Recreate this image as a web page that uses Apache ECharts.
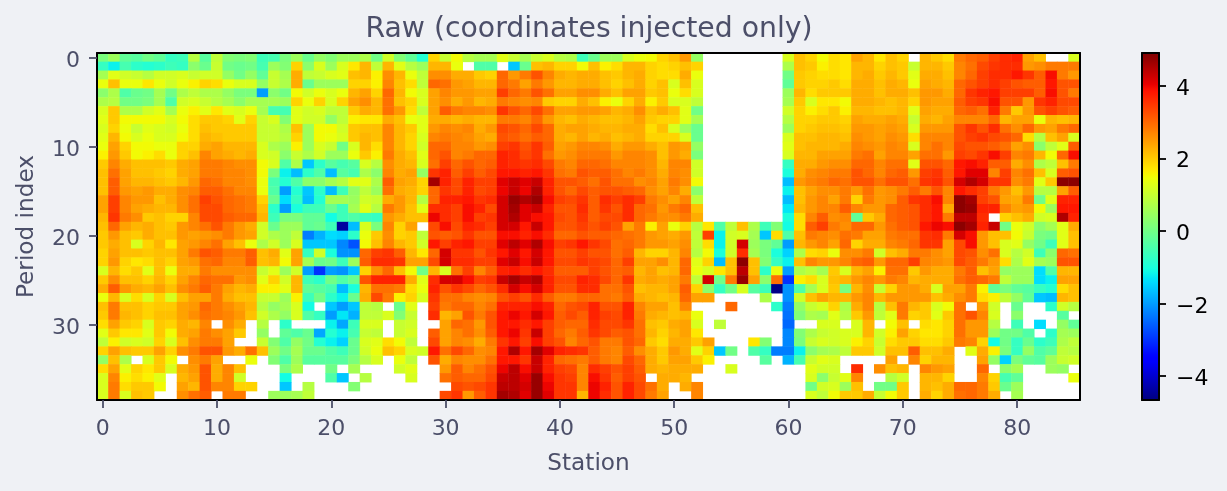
<!DOCTYPE html>
<html><head><meta charset="utf-8">
<style>html,body{margin:0;padding:0;background:#eff1f5}#c{width:1227px;height:491px}</style>
<script src="https://cdn.jsdelivr.net/npm/echarts@6/dist/echarts.min.js"></script>
</head><body><div id="c"></div>
<script>
const _ = null;
const titleText = 'Raw (coordinates injected only)';
const xName = 'Station', yName = 'Period index';
const colorbarTicks = [-4, -2, 0, 2, 4];
const valueMin = -4.66, valueMax = 4.9;
// values, in tenths of a unit; one array per period (row), 86 stations
const row00=[1,5,-2,-3,0,-2,-7,-6,8,-3,9,2,1,2,-6,-5,1,5,-1,4,2,5,5,7,0,11,2,-2,-9,19,10,15,8,6,6,13,10,6,10,12,8,7,-6,-1,5,5,12,14,15,19,21,25,4,_,_,_,_,_,_,_,12,21,19,15,18,17,24,22,17,21,19,_,22,20,18,28,30,31,34,36,37,24,21,_,_,12];
const row01=[-7,-12,-5,-8,-9,-8,-6,-7,3,-1,10,0,-1,0,-5,5,2,19,3,12,5,12,17,22,9,22,13,8,5,22,22,14,_,-4,-4,_,-16,-1,21,22,19,19,15,21,16,18,22,22,19,18,19,21,19,_,_,_,_,_,_,_,7,21,20,16,18,17,22,22,19,21,20,10,22,22,20,27,29,33,35,36,36,25,26,28,28,28];
const row02=[6,13,11,10,8,11,11,12,10,11,11,4,0,4,-2,10,6,23,9,10,12,13,21,22,16,26,22,14,9,26,26,23,23,20,19,30,25,28,32,27,23,22,23,23,21,20,22,23,19,18,18,23,14,_,_,_,_,_,_,_,0,20,19,18,18,17,22,23,20,22,20,13,23,23,21,27,30,34,36,36,38,35,31,39,28,25];
const row03=[14,21,14,14,17,14,11,14,16,19,18,14,12,12,4,10,7,23,-1,5,5,5,19,19,16,27,21,18,9,30,29,25,24,22,22,30,28,24,28,25,22,22,23,23,21,19,21,23,19,21,12,21,12,_,_,_,_,_,_,_,-2,20,19,19,20,18,23,23,21,23,22,14,24,23,22,30,32,34,36,34,32,31,31,38,32,32];
const row04=[3,7,-4,-1,0,6,0,7,9,7,7,4,1,1,-20,3,0,15,11,14,12,14,22,24,19,30,22,15,12,24,27,25,25,24,24,34,30,28,32,29,24,24,26,26,23,21,24,24,20,21,14,18,12,_,_,_,_,_,_,_,5,22,18,20,20,20,23,23,21,23,23,21,25,25,23,30,35,37,38,34,34,34,31,39,32,28];
const row05=[7,8,0,0,1,6,-4,11,12,10,8,6,3,6,6,6,5,19,14,19,12,19,24,26,22,29,21,19,12,24,26,23,25,22,23,28,27,26,27,20,19,19,23,21,16,14,19,23,16,20,12,12,9,_,_,_,_,_,_,_,6,20,12,17,17,15,23,23,22,21,22,19,25,24,24,31,34,35,39,32,32,25,35,37,33,33];
const row06=[12,20,7,7,11,13,6,14,16,13,17,13,12,14,6,-5,-5,13,11,12,9,9,20,23,22,29,25,18,9,24,31,28,27,27,26,35,32,30,33,29,24,24,25,25,24,22,23,26,21,23,21,13,0,_,_,_,_,_,_,_,11,19,16,18,20,16,22,22,21,21,22,13,24,23,23,30,31,29,37,28,20,25,32,34,32,31];
const row07=[13,20,15,15,15,15,12,15,18,20,20,19,13,19,10,12,2,13,11,11,4,9,16,17,17,23,21,14,13,23,23,22,23,22,22,28,28,27,30,25,22,21,23,22,21,21,22,24,20,19,19,13,6,_,_,_,_,_,_,_,8,19,19,20,20,19,24,23,23,24,23,10,23,22,24,27,27,27,30,22,24,24,14,22,21,22];
const row08=[12,19,14,10,13,12,11,14,18,21,20,20,20,20,10,10,7,21,5,15,15,11,20,21,21,27,22,20,13,25,27,26,27,23,25,33,32,30,33,30,23,24,24,23,22,22,23,23,18,21,12,5,-1,_,_,_,_,_,_,_,5,19,20,21,21,20,25,25,24,25,24,12,25,25,25,32,35,32,36,29,26,30,25,24,28,30];
const row09=[13,22,15,12,14,12,12,15,18,22,21,20,20,20,10,10,8,19,5,15,14,12,20,22,21,27,22,19,12,27,28,27,26,24,23,32,31,29,31,30,23,22,24,22,23,21,22,23,19,19,19,12,-1,_,_,_,_,_,_,_,12,21,21,22,22,21,26,25,24,26,25,18,27,27,27,32,34,35,33,32,30,18,8,21,24,12];
const row10=[14,24,19,15,15,14,14,19,19,23,24,22,22,22,12,7,5,16,5,12,10,0,12,22,18,27,22,19,11,30,30,27,27,25,26,34,35,32,35,31,24,25,27,27,26,23,25,25,23,21,25,24,4,_,_,_,_,_,_,_,13,21,22,22,22,23,27,26,25,27,26,12,27,29,27,33,32,32,31,29,24,26,3,9,13,31];
const row11=[16,25,20,15,16,18,14,19,21,27,24,23,22,23,12,11,3,10,7,11,5,5,14,20,16,28,23,21,13,30,32,27,28,30,30,37,36,33,35,29,25,26,28,28,28,25,27,27,26,21,25,23,1,_,_,_,_,_,_,_,12,22,22,24,24,24,28,29,24,27,27,24,29,29,25,34,33,35,39,34,27,28,22,15,30,39];
const row12=[20,27,23,21,21,21,20,23,24,28,28,27,26,26,15,12,-4,7,-16,-8,-3,-5,-3,12,8,26,23,22,12,29,34,30,32,30,31,37,36,35,36,33,28,27,30,30,29,27,27,27,26,22,27,27,11,_,_,_,_,_,_,_,-7,23,23,25,26,26,30,30,27,29,29,13,32,32,30,38,39,37,31,31,23,26,7,9,21,28];
const row13=[21,29,24,21,21,20,19,23,24,28,28,27,27,26,15,1,-12,-17,-8,-4,-17,-3,-5,7,3,27,23,24,4,35,37,31,34,31,33,38,38,37,38,35,29,28,32,31,31,29,27,28,26,23,27,26,11,_,_,_,_,_,_,_,-10,23,26,27,28,28,32,30,27,30,31,25,34,35,31,38,41,41,27,34,27,29,21,12,31,32];
const row14=[21,31,24,22,22,21,20,22,25,30,29,27,27,26,14,-5,-9,-4,3,3,6,8,13,13,7,31,24,23,19,46,37,33,37,34,34,41,43,41,43,37,32,32,31,29,32,29,29,26,27,24,28,26,15,_,_,_,_,_,_,_,-17,25,27,28,30,29,32,32,29,32,32,29,35,36,32,42,45,42,35,35,26,28,13,20,48,48];
const row15=[21,31,25,24,25,23,23,26,27,31,31,29,27,27,14,-4,-20,-9,-16,-8,-17,-6,4,9,5,29,23,22,19,30,35,33,37,33,34,40,43,40,45,37,32,30,33,31,32,32,31,30,26,24,27,23,3,_,_,_,_,_,_,_,-12,21,24,26,26,28,25,29,25,26,28,31,28,32,27,38,36,34,28,25,21,25,8,8,24,31];
const row16=[24,34,27,25,25,21,23,26,29,34,32,30,29,28,19,-1,-14,-7,-17,-9,6,6,5,11,10,23,25,22,8,30,37,37,38,35,36,42,47,45,47,39,34,33,35,31,36,34,36,34,28,26,24,27,9,_,_,_,_,_,_,_,-17,21,25,27,24,28,19,28,25,26,31,35,36,39,27,48,46,34,32,24,23,28,0,13,37,37];
const row17=[24,34,27,24,23,22,22,26,29,33,33,30,29,28,21,-8,-20,-10,-6,-6,-1,-6,6,13,8,28,25,21,13,36,36,34,39,37,33,42,46,41,43,37,32,32,36,31,35,32,36,30,29,25,28,30,21,_,_,_,_,_,_,_,-13,22,25,27,27,31,27,25,25,30,31,32,36,38,23,48,47,37,37,27,24,25,15,5,38,38];
const row18=[22,35,28,26,20,21,19,19,27,33,33,31,30,30,22,-6,1,1,-2,-2,-11,-6,-4,-6,-7,25,23,21,21,40,36,34,39,34,35,42,45,41,39,38,33,32,35,31,33,33,36,30,28,26,26,28,23,_,_,_,_,_,_,_,-10,18,27,31,26,27,-2,20,23,30,31,32,36,38,28,44,44,36,_,19,21,23,11,12,45,37];
const row19=[21,30,24,22,23,21,20,25,27,29,32,28,25,23,11,-1,5,5,-2,-1,-6,-44,-17,12,1,27,19,24,_,33,39,33,37,36,34,42,42,38,43,38,32,32,34,32,34,32,24,28,16,24,14,19,8,17,-4,9,21,7,-6,2,-11,18,31,34,28,26,30,30,25,29,31,32,38,40,39,48,46,37,43,0,14,11,3,6,13,23];
const row20=[20,25,21,20,23,21,21,25,24,25,26,28,25,24,11,7,5,9,-23,-18,-14,-15,-8,14,20,26,19,20,9,32,31,32,35,32,32,39,39,37,39,36,30,30,32,31,31,30,29,28,25,24,23,25,9,34,-12,11,12,6,-16,18,-4,21,28,27,26,29,28,24,24,28,29,29,35,36,28,42,39,25,21,21,15,10,1,0,13,21];
const row21=[20,23,21,12,19,22,17,24,25,27,29,24,21,14,7,11,5,12,-16,-16,-16,-22,-27,15,21,27,22,20,11,38,34,37,38,34,34,41,44,41,45,39,34,35,38,35,33,29,30,28,25,25,24,26,9,18,-12,11,42,5,1,-2,-20,22,25,27,24,30,19,23,23,27,28,30,35,35,24,33,39,25,21,12,13,4,0,-6,13,21];
const row22=[19,24,21,21,20,21,21,24,28,32,31,28,28,31,21,23,13,24,-7,11,-10,-21,-21,30,34,35,31,22,17,30,42,35,35,32,35,38,41,38,42,38,32,32,34,32,32,29,31,22,19,19,22,27,8,15,-10,11,36,6,1,-10,-15,7,18,19,14,26,26,28,11,21,23,28,28,26,24,33,32,26,29,12,8,11,-6,3,30,29];
const row23=[19,25,19,17,18,21,19,24,25,29,30,27,27,31,21,22,15,24,6,-1,0,-6,5,31,36,36,35,24,24,33,42,36,36,34,34,41,43,39,43,38,33,33,35,34,33,30,34,24,24,26,22,30,13,19,-17,21,48,21,2,-7,-12,21,27,25,25,27,30,31,25,30,30,34,27,26,25,33,31,28,25,18,7,13,6,5,32,32];
const row24=[12,22,18,20,13,21,14,23,23,28,26,26,26,26,10,13,5,11,-20,-30,-20,-21,-16,19,26,30,21,15,0,22,12,29,34,27,31,37,38,36,38,36,31,31,31,34,32,30,31,22,24,21,22,30,14,12,17,21,44,21,-8,14,-20,7,9,6,20,12,22,24,16,29,29,20,25,23,23,28,31,21,24,4,5,5,-14,-4,22,22];
const row25=[20,26,21,21,19,22,19,24,27,30,29,29,25,26,13,19,11,22,-6,-8,0,-4,-1,32,37,37,37,23,13,36,42,42,39,34,35,43,46,43,45,37,33,33,37,36,33,30,35,23,24,23,24,28,9,42,0,28,47,24,3,29,-30,16,18,12,21,22,25,27,25,28,27,22,23,23,23,29,31,30,28,9,5,5,-14,-12,24,24];
const row26=[23,31,25,23,22,24,21,26,28,31,28,24,22,23,16,16,13,22,-2,-3,-5,-17,-10,22,29,29,28,18,14,37,32,35,33,30,32,36,42,39,42,37,32,32,36,36,29,29,32,21,22,22,24,31,19,3,-7,0,12,-3,-6,-46,-21,-4,6,12,20,1,22,26,10,19,25,25,23,12,24,24,28,16,-2,1,-2,-3,-7,-9,18,21];
const row27=[14,22,12,18,12,19,12,21,24,24,28,23,21,21,10,10,5,16,-6,0,-8,-12,-1,23,33,28,16,19,12,35,29,29,27,26,27,32,34,32,36,31,28,28,30,30,29,28,31,23,22,21,22,30,24,24,_,_,_,_,7,_,-21,11,21,24,22,22,25,27,22,25,25,25,25,21,23,26,28,18,16,9,4,-2,-16,-17,22,21];
const row28=[21,28,21,21,19,20,20,24,25,30,28,26,24,22,8,4,6,12,-11,_,-16,-20,-16,9,8,_,-1,13,_,34,28,30,30,27,29,37,37,37,39,37,30,32,33,37,32,32,37,27,24,24,21,27,_,_,_,30,_,_,_,-8,-23,4,10,12,19,7,23,27,8,21,28,22,20,12,15,29,_,25,11,_,-1,_,_,-8,11,8];
const row29=[20,28,22,21,19,21,21,24,26,29,28,27,25,21,11,7,4,12,-4,-7,-20,-13,-18,9,9,12,2,10,_,36,22,24,32,28,32,38,40,38,42,38,31,33,31,37,34,33,37,28,23,22,21,22,14,_,_,_,_,_,_,_,-24,2,7,6,13,8,20,25,9,13,28,19,20,13,20,29,32,27,12,_,3,_,_,_,-3,_];
const row30=[18,24,20,19,12,20,19,23,22,27,_,26,23,_,8,_,-8,_,_,_,-12,-19,-6,12,12,_,10,11,_,_,24,30,29,25,32,38,38,36,38,34,31,30,30,36,33,33,35,29,21,20,23,24,12,_,9,_,_,_,_,_,-25,_,_,12,12,_,12,22,_,15,21,_,18,17,19,29,25,25,8,_,-6,_,-14,_,4,-2];
const row31=[13,20,17,17,13,20,15,23,24,28,26,24,20,_,4,_,-2,-4,-1,-19,-9,-12,-5,10,9,_,10,12,_,31,24,27,29,26,31,38,40,35,43,34,30,28,31,35,33,31,32,29,22,19,22,24,17,_,_,_,_,_,_,_,-22,2,7,10,11,12,12,22,11,16,24,19,17,17,19,29,25,25,5,0,0,-4,_,-8,6,5];
const row32=[9,16,11,12,11,19,12,21,26,28,28,24,_,_,10,2,-4,4,0,-9,-12,-15,-1,12,13,18,15,9,_,33,24,27,26,23,28,35,38,34,39,34,32,27,30,32,28,28,32,30,20,18,23,23,20,24,_,_,_,17,2,_,-22,1,10,12,11,12,16,19,10,18,20,20,18,18,20,28,27,19,-11,0,-7,-1,-8,-6,7,9];
const row33=[19,24,21,20,20,24,19,26,28,32,32,25,23,29,21,5,0,6,-1,-1,-4,-6,-1,11,14,21,19,12,11,38,29,33,30,26,27,38,45,38,46,41,37,36,35,31,28,27,31,26,23,20,25,23,13,19,-16,0,_,-4,-7,-23,-23,-12,3,6,7,9,20,20,11,21,21,31,21,21,23,_,13,23,16,1,-7,4,-4,-2,9,8];
const row34=[4,21,7,_,12,20,15,_,26,28,24,_,_,14,_,2,-4,5,-3,-3,-3,-3,1,8,12,_,14,9,_,32,23,27,26,26,29,38,38,35,43,37,30,29,28,31,28,27,33,30,23,20,24,24,20,16,_,_,_,_,-3,_,-18,-5,10,13,12,_,_,_,_,24,_,27,19,22,22,_,_,24,4,-15,1,-2,-3,5,10,11];
const row35=[18,24,13,19,17,20,12,23,25,32,23,27,21,_,_,_,1,7,_,_,0,_,6,_,_,_,11,13,_,_,25,31,27,29,32,40,44,39,43,37,34,33,27,36,34,32,34,31,23,22,23,23,23,_,_,12,_,_,_,_,_,_,13,11,11,_,36,_,26,21,22,_,27,25,24,_,_,30,_,3,6,_,_,5,4,_];
const row36=[12,27,16,18,16,13,_,22,24,32,23,27,11,_,_,_,-11,_,_,_,-4,-16,_,8,_,_,_,12,_,_,29,31,30,30,33,43,44,41,47,39,35,34,27,39,35,31,34,32,_,23,23,22,_,_,_,_,_,_,_,_,_,_,12,3,10,13,27,_,_,8,11,_,22,22,19,_,_,27,19,-5,-2,_,_,_,_,14];
const row37=[12,28,18,20,20,15,_,24,22,32,27,27,19,19,_,_,-16,_,8,_,_,_,2,_,_,_,_,_,_,_,_,33,32,33,35,44,44,42,47,40,35,35,27,40,37,32,37,33,29,23,_,23,27,_,_,_,_,_,_,_,_,_,0,11,12,5,21,_,0,0,20,_,22,21,23,30,30,28,20,-1,5,_,_,_,_,_];
const row38=[12,28,12,21,20,_,_,26,29,31,_,28,28,_,_,5,5,6,9,_,_,_,_,_,_,_,_,_,_,_,33,35,25,31,35,46,45,41,47,41,35,35,22,40,36,32,37,33,28,24,_,_,27,_,_,_,_,_,_,_,_,_,12,9,15,20,20,23,10,15,20,_,23,19,23,29,30,28,23,_,6,_,_,_,_,_];
const rows=[row00,row01,row02,row03,row04,row05,row06,row07,row08,row09,row10,row11,row12,row13,row14,row15,row16,row17,row18,row19,row20,row21,row22,row23,row24,row25,row26,row27,row28,row29,row30,row31,row32,row33,row34,row35,row36,row37,row38];

const stations = rows[0].map((v, i) => String(i));
const periods = rows.map((r, i) => String(i));
const cells = [];
rows.forEach((r, y) => r.forEach((v, x) => { if (v !== null) cells.push([x, y, v / 10]); }));

// matplotlib "jet" colour map
function ramp(t, pts) {
  for (let i = 1; i < pts.length; i++) if (t <= pts[i][0]) {
    const a = pts[i - 1], b = pts[i];
    return a[1] + (b[1] - a[1]) * (t - a[0]) / (b[0] - a[0]);
  }
  return pts[pts.length - 1][1];
}
const jet = [];
for (let i = 0; i <= 255; i++) {
  const t = i / 255;
  const r = ramp(t, [[0,0],[.35,0],[.66,1],[.89,1],[1,.5]]);
  const g = ramp(t, [[0,0],[.125,0],[.375,1],[.64,1],[.91,0],[1,0]]);
  const b = ramp(t, [[0,.5],[.11,1],[.34,1],[.65,0],[1,0]]);
  jet.push(`rgb(${Math.round(r*255)},${Math.round(g*255)},${Math.round(b*255)})`);
}

const ink = '#4c4f69', bg = '#eff1f5', frame = '#000';
const tickFs = 22, nameFs = 23.2;
const line = { show: true, onZero: false, lineStyle: { color: frame, width: 2 } };
const chart = echarts.init(document.getElementById('c'), null, { renderer: 'canvas' });
chart.setOption({
  animation: false,
  backgroundColor: bg,
  textStyle: { fontFamily: 'DejaVu Sans' },
  title: { text: titleText, left: 584, top: 11, textAlign: 'center', textStyle: { color: ink, fontSize: 28.3, fontWeight: 'normal', fontFamily: 'DejaVu Sans' } },
  grid: [
    { left: 97, top: 53, width: 983, height: 347, show: true, backgroundColor: '#fff', borderWidth: 0, containLabel: false },
    { left: 1142, top: 53, width: 17, height: 347, show: false }
  ],
  xAxis: [
    { type: 'category', gridIndex: 0, data: stations, position: 'bottom', z: 10, name: xName, nameLocation: 'middle', nameGap: 52,
      nameTextStyle: { color: ink, fontSize: nameFs, fontFamily: 'DejaVu Sans' },
      axisLine: line, splitLine: { show: false },
      axisTick: { show: true, alignWithLabel: true, interval: 9, length: 8, lineStyle: { color: ink, width: 1.8 } },
      axisLabel: { show: true, interval: 9, color: ink, fontSize: tickFs, margin: 18, fontFamily: 'DejaVu Sans' } },
    { type: 'category', gridIndex: 0, data: stations, position: 'top', z: 10, axisLine: line, axisTick: { show: false }, axisLabel: { show: false }, splitLine: { show: false } },
    { type: 'value', gridIndex: 1, min: 0, max: 1, position: 'top', z: 10, axisLine: line, axisTick: { show: false }, axisLabel: { show: false }, splitLine: { show: false } },
    { type: 'value', gridIndex: 1, min: 0, max: 1, position: 'bottom', z: 10, axisLine: line, axisTick: { show: false }, axisLabel: { show: false }, splitLine: { show: false } }
  ],
  yAxis: [
    { type: 'category', gridIndex: 0, data: periods, inverse: true, position: 'left', z: 10, name: yName, nameLocation: 'middle', nameGap: 59,
      nameTextStyle: { color: ink, fontSize: nameFs, fontFamily: 'DejaVu Sans' },
      axisLine: line, splitLine: { show: false },
      axisTick: { show: true, alignWithLabel: true, interval: 9, length: 8, lineStyle: { color: ink, width: 1.8 } },
      axisLabel: { show: true, interval: 9, color: ink, fontSize: tickFs, margin: 17, verticalAlign: 'top', lineHeight: 7, fontFamily: 'DejaVu Sans' } },
    { type: 'category', gridIndex: 0, data: periods, inverse: true, position: 'right', z: 10, axisLine: line, axisTick: { show: false }, axisLabel: { show: false }, splitLine: { show: false } },
    { type: 'value', gridIndex: 1, min: valueMin, max: valueMax, position: 'right', z: 10, axisLine: line, splitLine: { show: false },
      axisTick: { show: true, length: 7, customValues: colorbarTicks, lineStyle: { color: frame, width: 1.8 } },
      axisLabel: { show: true, customValues: colorbarTicks, color: frame, fontSize: tickFs, margin: 17, verticalAlign: 'top', lineHeight: 7, fontFamily: 'DejaVu Sans', formatter: v => String(v).replace('-', '\u2212') } },
    { type: 'value', gridIndex: 1, min: valueMin, max: valueMax, position: 'left', z: 10, axisLine: line, axisTick: { show: false }, axisLabel: { show: false }, splitLine: { show: false } }
  ],
  visualMap: {
    type: 'continuous', seriesIndex: 0, min: valueMin, max: valueMax, show: true, calculable: false, realtime: false, hoverLink: false,
    orient: 'vertical', left: 1142, top: 53, itemWidth: 17, itemHeight: 347, padding: 0, text: null, showLabel: false,
    textStyle: { fontSize: 0, color: 'transparent' }, inRange: { color: jet }
  },
  series: [
    { type: 'heatmap', xAxisIndex: 0, yAxisIndex: 0, data: cells, progressive: 0, silent: true, itemStyle: { borderWidth: 0 }, emphasis: { disabled: true } },
    { type: 'line', xAxisIndex: 2, yAxisIndex: 2, data: [], silent: true },
    { type: 'line', xAxisIndex: 3, yAxisIndex: 3, data: [], silent: true }
  ]
});
</script></body></html>
